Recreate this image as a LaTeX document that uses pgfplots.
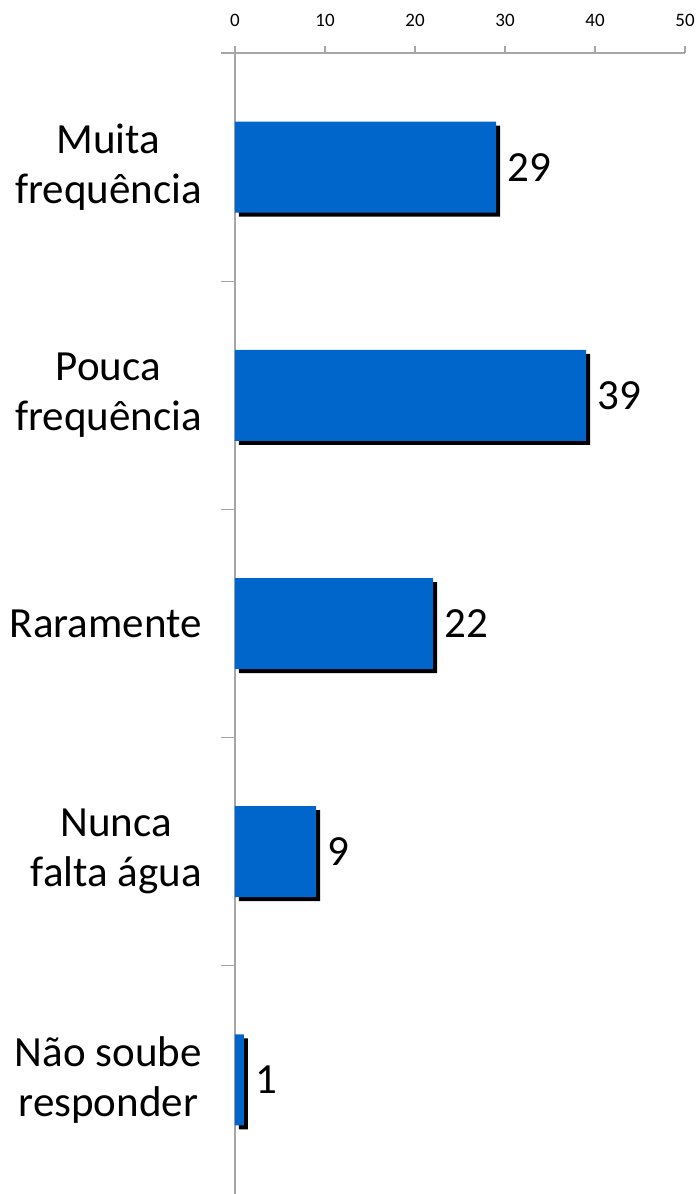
\documentclass[border=0pt]{standalone}
\usepackage{pgfplots}
\pgfplotsset{compat=1.18}
\usepackage{fontspec}
\setmainfont{Carlito}
\definecolor{barblue}{HTML}{0066CC}
\definecolor{axgray}{HTML}{A6A6A6}
\begin{document}
\begin{tikzpicture}[x=1pt,y=1pt]
\useasboundingbox (0,0) rectangle (699,1194);
\begin{axis}[
 at={(235pt,0pt)}, anchor=south west,
 scale only axis, width=450pt, height=1141pt,
 xmin=0, xmax=50, ymin=-0.5, ymax=4.5,
 axis x line*=top, axis y line*=left,
 axis line style={draw=axgray, line width=1.2pt},
 xtick={0,10,20,30,40,50},
 tick align=outside,
 major tick length=7pt, minor tick length=14pt,
 tick style={draw=axgray, line width=1.2pt},
 xticklabel style={font=\fontsize{19}{19}\selectfont, inner sep=0pt, yshift=19pt},
 /pgf/number format/assume math mode=true,
 ytick={0,1,2,3,4},
 yticklabels={{Não soube\\responder},{Nunca\\falta água},Raramente,{Pouca\\frequência},{Muita\\frequência}},
 major y tick style={draw=none},
 minor ytick={0.5,1.5,2.5,3.5,4.5},
 minor y tick style={draw=axgray, line width=1.2pt},
 yticklabel style={align=center, font=\fontsize{43}{50}\selectfont, anchor=east, inner sep=0pt, xshift=-26pt},
 xbar, bar width=91pt, bar shift=0pt,
 clip=false,
]
\addplot[fill=black, draw=none, xshift=4pt, yshift=-4pt] coordinates {(1,0) (9,1) (22,2) (39,3) (29,4)};
\addplot[fill=barblue, draw=none, nodes near coords, nodes near coords style={font=\fontsize{43}{50}\selectfont, anchor=west, inner sep=0pt, xshift=11pt, text=black}] coordinates {(1,0) (9,1) (22,2) (39,3) (29,4)};
\end{axis}
\end{tikzpicture}
\end{document}
